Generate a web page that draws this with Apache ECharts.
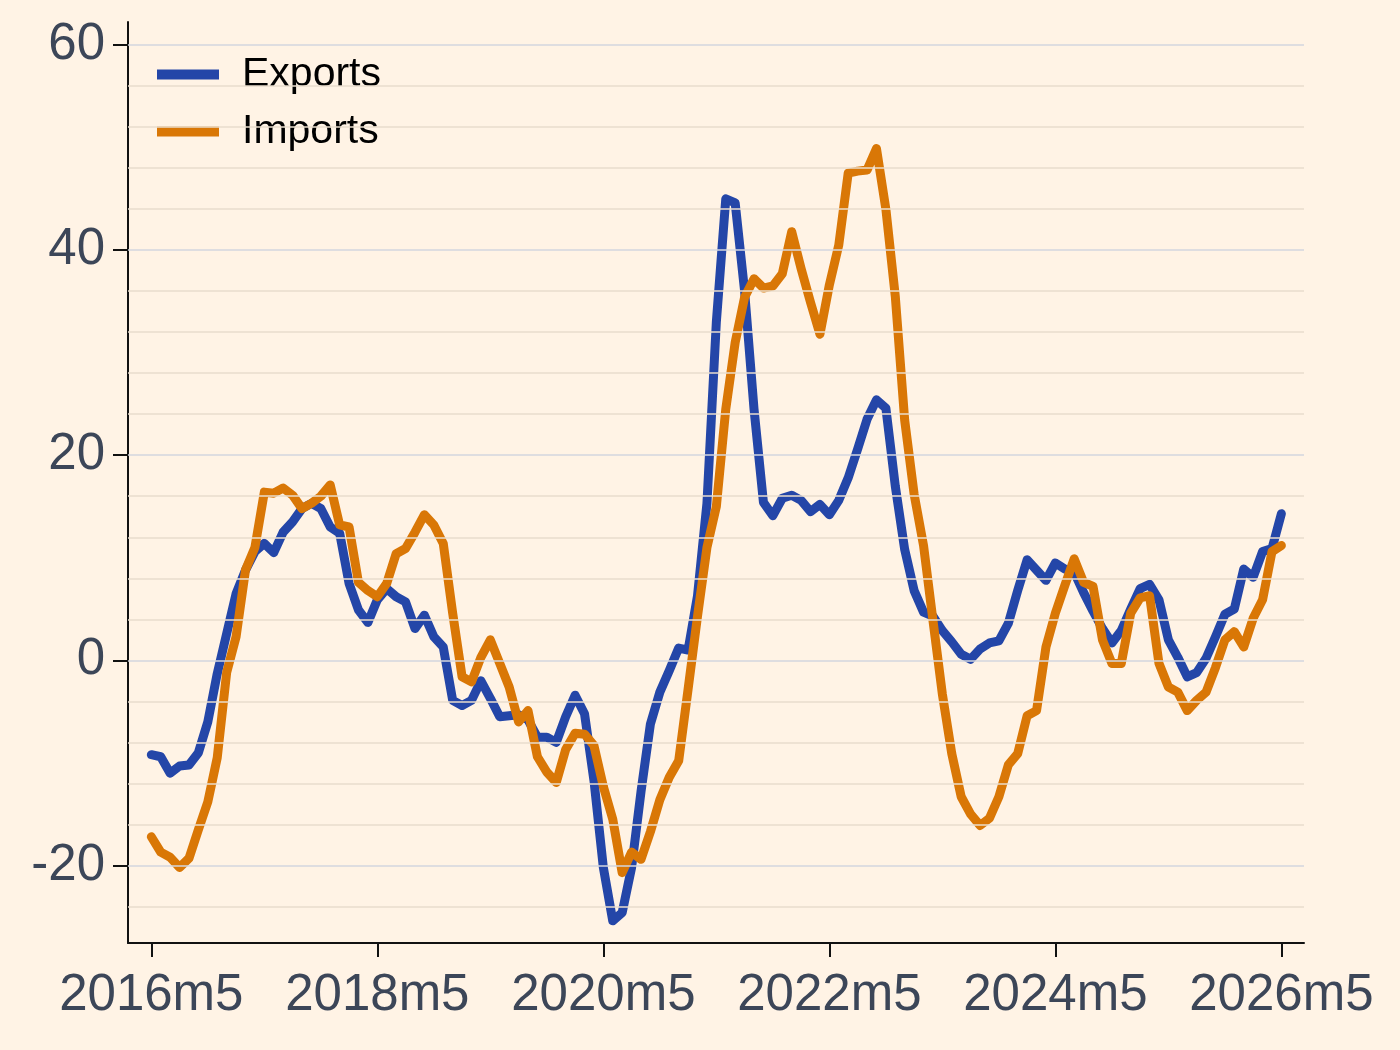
<!DOCTYPE html>
<html lang="en">
<head>
    <meta charset="utf-8" />
    <title>Exports and Imports</title>
    <script src="https://cdn.jsdelivr.net/npm/echarts@6/dist/echarts.min.js"></script>
    <style>
        html, body { margin: 0; padding: 0; background: #fff3e5; }
    </style>
</head>
<body>
    <div id="box" style="width:1400px;height:1050px;"></div>
    <script>
        // monthly growth rates, 2016m5 .. 2026m5 (121 months)
        var startYear = 2016, startMonth = 5;
        var exports = [
            -9.2, -9.4, -11.0, -10.3, -10.2, -9.0, -6.0, -1.3, 2.6, 6.5, 8.8, 10.6,
            11.4, 10.5, 12.5, 13.5, 14.8, 15.3, 14.8, 13.0, 12.4, 7.5, 4.9, 3.7,
            5.9, 7.0, 6.2, 5.7, 3.1, 4.4, 2.3, 1.3, -3.9, -4.4, -3.9, -2.0,
            -3.7, -5.5, -5.4, -5.3, -5.8, -7.5, -7.5, -8.0, -5.5, -3.4, -5.2, -11.7,
            -20.2, -25.4, -24.6, -20.2, -12.8, -6.2, -3.1, -1.0, 1.2, 1.0, 6.3, 15.3,
            33.0, 45.0, 44.6, 36.0, 24.5, 15.4, 14.1, 15.8, 16.1, 15.6, 14.5, 15.2,
            14.2, 15.6, 17.8, 20.6, 23.5, 25.4, 24.6, 17.0, 10.8, 6.8, 4.7, 4.3,
            2.9, 1.8, 0.6, 0.1, 1.1, 1.7, 1.9, 3.6, 6.8, 9.8, 8.8, 7.8,
            9.5, 8.9, 8.6, 6.6, 4.8, 3.1, 1.7, 2.9, 5.0, 7.0, 7.4, 5.9,
            2.0, 0.3, -1.6, -1.2, 0.2, 2.3, 4.5, 5.0, 8.9, 8.1, 10.6, 10.9,
            14.3
        ];
        var imports = [
            -17.2, -18.7, -19.2, -20.2, -19.3, -16.5, -13.8, -9.5, -1.2, 2.3, 8.8, 11.0,
            16.4, 16.3, 16.8, 16.1, 14.8, 15.3, 16.0, 17.1, 13.2, 13.0, 7.6, 6.8,
            6.2, 7.5, 10.4, 10.9, 12.5, 14.2, 13.2, 11.4, 4.6, -1.6, -2.1, 0.3,
            2.0, -0.3, -2.6, -6.0, -4.9, -9.4, -10.9, -11.9, -8.7, -7.1, -7.2, -8.3,
            -12.3, -15.5, -20.7, -18.7, -19.4, -16.7, -13.6, -11.4, -9.8, -2.8, 4.3, 11.0,
            15.0, 24.5, 31.0, 35.4, 37.2, 36.3, 36.5, 37.7, 41.8, 38.2, 34.9, 31.8,
            36.6, 40.5, 47.5, 47.7, 47.8, 49.9, 44.0, 35.5, 23.4, 16.2, 11.2, 3.9,
            -3.3, -9.1, -13.3, -15.0, -16.1, -15.4, -13.3, -10.2, -9.1, -5.4, -4.9, 1.3,
            4.6, 7.3, 9.9, 7.6, 7.2, 2.0, -0.3, -0.3, 4.6, 6.1, 6.3, -0.3,
            -2.6, -3.1, -4.9, -3.9, -3.1, -0.7, 2.0, 2.8, 1.3, 4.1, 5.9, 10.6,
            11.2
        ];
        var xTicks = [0, 24, 48, 72, 96, 120];          // 2016m5 ... 2026m5
        var yTicks = [-20, 0, 20, 40, 60];
        var yMinor = [-24, -16, -12, -8, -4, 4, 8, 12, 16, 24, 28, 32, 36, 44, 48, 52, 56];

        function monthLabel(v) {
            var k = startMonth - 1 + v;
            return (startYear + Math.floor(k / 12)) + 'm' + (k % 12 + 1);
        }
        function pairs(arr) {
            var out = [];
            for (var i = 0; i < arr.length; i++) out.push([i, arr[i]]);
            return out;
        }

        var gridLines = [];
        yMinor.forEach(function (v) {
            gridLines.push({ yAxis: v, lineStyle: { color: '#e8dccd', width: 1.5, type: 'solid' } });
        });
        yTicks.forEach(function (v) {
            gridLines.push({ yAxis: v, lineStyle: { color: '#d3d6de', width: 1.5, type: 'solid' } });
        });

        var myChart = echarts.init(document.getElementById('box'));
        var option = {
            backgroundColor: '#fff3e5',
            animation: false,
            grid: { left: 128, right: 96, top: 22, bottom: 107 },
            legend: {
                data: ['Exports', 'Imports'],
                orient: 'vertical',
                left: 157,
                top: 54,
                padding: 0,
                itemWidth: 62,
                itemHeight: 10,
                itemGap: 16,
                icon: 'rect',
                itemStyle: { borderWidth: 0 },
                lineStyle: { width: 0 },
                textStyle: { fontSize: 41, color: '#000', fontFamily: 'Liberation Sans, Arial, sans-serif', padding: [0, 0, 0, 18] }
            },
            xAxis: {
                type: 'value',
                min: -2.475,
                max: 122.4,
                splitLine: { show: false },
                axisLine: { onZero: false, lineStyle: { color: '#111', width: 2 } },
                axisTick: { customValues: xTicks, length: 14, lineStyle: { color: '#111', width: 2 } },
                axisLabel: {
                    customValues: xTicks,
                    formatter: monthLabel,
                    margin: 27,
                    fontSize: 51,
                    color: '#3c4658',
                    fontFamily: 'Liberation Sans, Arial, sans-serif'
                }
            },
            yAxis: {
                type: 'value',
                min: -27.56,
                max: 62.24,
                splitLine: { show: false },
                axisLine: { show: true, onZero: false, lineStyle: { color: '#111', width: 2 } },
                axisTick: { show: true, customValues: yTicks, length: 15, lineStyle: { color: '#111', width: 2 } },
                axisLabel: {
                    customValues: yTicks,
                    margin: 23,
                    fontSize: 51,
                    color: '#3c4658',
                    fontFamily: 'Liberation Sans, Arial, sans-serif'
                }
            },
            series: [
                {
                    name: 'grid',
                    type: 'line',
                    data: [[0, 0]],
                    showSymbol: false,
                    silent: true,
                    z: 1,
                    lineStyle: { width: 0, opacity: 0 },
                    markLine: {
                        silent: true,
                        symbol: ['none', 'none'],
                        label: { show: false },
                        data: gridLines
                    }
                },
                {
                    name: 'Exports',
                    type: 'line',
                    data: pairs(exports),
                    showSymbol: false,
                    z: 3,
                    color: '#2446a8',
                    lineStyle: { width: 9, color: '#2446a8', cap: 'round', join: 'round' }
                },
                {
                    name: 'Imports',
                    type: 'line',
                    data: pairs(imports),
                    showSymbol: false,
                    z: 4,
                    color: '#d97706',
                    lineStyle: { width: 9, color: '#d97706', cap: 'round', join: 'round' }
                }
            ]
        };
        myChart.setOption(option);
    </script>
</body>
</html>
